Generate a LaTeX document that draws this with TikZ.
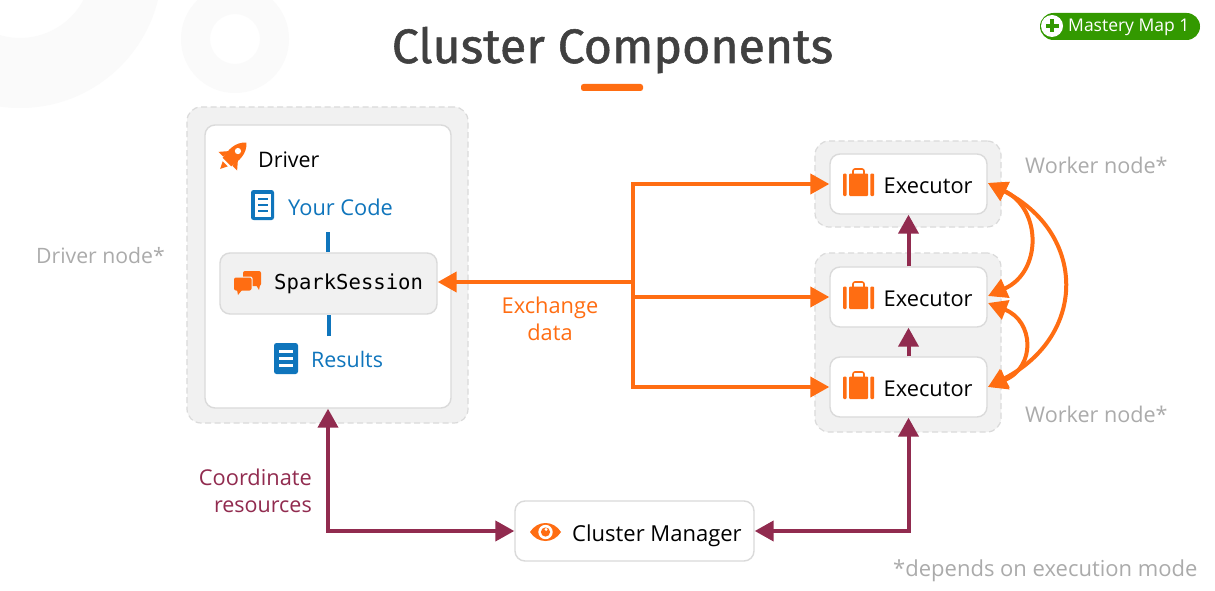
\documentclass[tikz,border=0pt]{standalone}
\usepackage{fontspec}
\setmainfont{Open Sans}
\newfontfamily\titlefont[FakeBold=1.1]{Fira Sans}
\newfontfamily\codefont{DejaVu Sans Mono}
\usetikzlibrary{arrows.meta,calc}
\definecolor{orng}{HTML}{FF6D12}
\definecolor{plum}{HTML}{912B4F}
\definecolor{blu}{HTML}{0F75BC}
\definecolor{lgray}{HTML}{F1F1F1}
\definecolor{edge}{HTML}{DADADA}
\definecolor{gtxt}{HTML}{ABABAB}
\definecolor{ringc}{HTML}{FAFAFA}
\definecolor{pill}{HTML}{339900}
\tikzset{
  group/.style={draw=edge,dashed,dash pattern=on 6pt off 3.5pt,line width=1.2pt,fill=lgray,rounded corners=14pt,inner sep=0pt,minimum width=#1},
  card/.style={draw=edge,line width=1.4pt,fill=white,rounded corners=10pt,inner sep=0pt},
  lab/.style={anchor=base west,inner sep=0pt,font=\fontsize{21.8}{22}\selectfont},
  note/.style={lab,text=gtxt},
  oarrow/.style={draw=orng,line width=4pt,-{Triangle[length=19pt,width=20pt]}},
  oboth/.style={draw=orng,line width=4pt,{Triangle[length=19pt,width=20pt]}-{Triangle[length=19pt,width=20pt]}},
  oplain/.style={draw=orng,line width=4pt},
  parrow/.style={draw=plum,line width=4pt,-{Triangle[length=19pt,width=20pt]}},
  pboth/.style={draw=plum,line width=4pt,{Triangle[length=19pt,width=20pt]}-{Triangle[length=19pt,width=20pt]}},
  bline/.style={draw=blu,line width=4pt},
}
\newcommand\iconbrief[1]{\begin{scope}[shift={#1}]
  \fill[orng,rounded corners=1pt] (0,5.5) rectangle (3.6,28);
  \fill[orng,rounded corners=1pt] (6,5.5) rectangle (25,28);
  \fill[orng,rounded corners=1pt] (27.4,5.5) rectangle (31,28);
  \draw[orng,line width=1.6pt,rounded corners=2pt] (10,6) -- (10,1) -- (21,1) -- (21,6);
\end{scope}}
\begin{document}
\begin{tikzpicture}[x=1pt,y=-1pt]
\useasboundingbox (0,0) rectangle (1215,591);
\fill[white] (0,0) rectangle (1215,591);
% background rings
\begin{scope}
\clip (0,0) rectangle (1215,591);
\fill[ringc,even odd rule] (20,-34) circle (142) (20,-34) circle (72);
\fill[ringc,even odd rule] (235,39) circle (54) (235,39) circle (25);
\end{scope}
% title
\node[anchor=base,inner sep=0pt,text=black!75,font=\titlefont\fontsize{48.3}{48}\selectfont] (title) at (612.5,63) {Cluster Components};
\fill[orng,rounded corners=2.5pt] (581,84) rectangle (643,91);
% badge
\node[fill=pill,rounded corners=13.5pt,minimum width=160pt,minimum height=27pt,inner sep=0pt] (badge) at (1120,26.5) {};
\fill[white] (1052,26) circle (11);
\fill[pill] (1050.2,19.5) rectangle (1053.8,32.5);
\fill[pill] (1045.5,24.2) rectangle (1058.5,27.8);
\node[lab,text=white,font=\fontsize{17.5}{17.5}\selectfont] (badgetxt) at (1068,32) {Mastery Map 1};
% groups
\node[group=281pt,minimum height=316pt] (drvgroup) at (327.5,265) {};
\node[group=186pt,minimum height=86pt] (wk1) at (908,184) {};
\node[group=186pt,minimum height=179pt] (wk2) at (908,342.5) {};
% cards
\node[card,minimum width=246pt,minimum height=283pt] (drv) at (328,266.5) {};
\node[card,fill=lgray,minimum width=217pt,minimum height=61pt] (spark) at (328.5,283.5) {};
\node[card,minimum width=157pt,minimum height=60pt] (ex1) at (908.5,184) {};
\node[card,minimum width=157pt,minimum height=60pt] (ex2) at (908.5,297) {};
\node[card,minimum width=157pt,minimum height=60pt] (ex3) at (908.5,387) {};
\node[card,minimum width=239pt,minimum height=60pt] (cm) at (634.5,531) {};
% labels
\node[lab,font=\fontsize{21.4}{22}\selectfont] (drvtxt) at (258,167) {Driver};
\node[lab,text=blu] (codetxt) at (288,215) {Your Code};
\node[lab,text=blu,font=\fontsize{21.4}{22}\selectfont] (restxt) at (311,367) {Results};
\node[lab,font=\codefont\fontsize{20.6}{20.6}\selectfont] (sparktxt) at (274,289) {SparkSession};
\node[lab] (ex1txt) at (883.5,193) {Executor};
\node[lab] (ex2txt) at (883.5,306) {Executor};
\node[lab] (ex3txt) at (883.5,396) {Executor};
\node[lab,font=\fontsize{22}{22}\selectfont] (cmtxt) at (572,541) {Cluster Manager};
\node[note,font=\fontsize{21.2}{22}\selectfont] (n1) at (36,263) {Driver node*};
\node[note,font=\fontsize{21.6}{22}\selectfont] (n2) at (1025,173) {Worker node*};
\node[note,font=\fontsize{21.6}{22}\selectfont] (n3) at (1025,422) {Worker node*};
\node[note,font=\fontsize{22}{22}\selectfont] (n4) at (893,576) {*depends on execution mode};
\node[lab,anchor=base,text=orng] (ex1l) at (550,313) {Exchange};
\node[lab,anchor=base,text=orng] (ex2l) at (550,340) {data};
\node[lab,anchor=base east,text=plum,font=\fontsize{21.8}{22}\selectfont] (co1) at (312,485) {Coordinate};
\node[lab,anchor=base east,text=plum,font=\fontsize{21.5}{22}\selectfont] (co2) at (312,512) {resources};
% blue connectors
\coordinate (codeb) at (328,232);
\coordinate (resb) at (329,336);
\draw[bline] (codeb) -- (codeb|-spark.north);
\draw[bline] (resb) -- (resb|-spark.south);
% orange connectors
\coordinate (jn) at (632.5,282);
\draw[oarrow] (jn) -- (jn-|spark.east);
\draw[oplain,line cap=butt] ($(jn|-ex1.west)+(0,-2)$) -- ($(jn|-ex3.west)+(0,2)$);
\draw[oarrow] (jn|-ex1.west) -- (ex1.west);
\draw[oarrow] (jn|-ex2.west) -- (ex2.west);
\draw[oarrow] (jn|-ex3.west) -- (ex3.west);
% curved exchange
\coordinate (a1) at (988,183);
\coordinate (a2) at (988,296);
\coordinate (a3) at (988,303);
\coordinate (a4) at (988,387);
\draw[oboth] (a1) .. controls +(54,26) and +(54,-24) .. (a2);
\draw[oboth] (a1) .. controls +(98,50) and +(100,-52) .. (a4);
\draw[oboth] (a3) .. controls +(46,18) and +(48,-20) .. (a4);
% plum connectors
\draw[parrow] (ex2.north) -- (ex1.south);
\draw[parrow] (ex3.north) -- (ex2.south);
\coordinate (bendl) at (328,531);
\coordinate (bendr) at (908.5,531);
\draw[pboth] (drv.south) -- (bendl) -- (cm.west);
\draw[pboth] (cm.east) -- (bendr) -- (ex3.south);
% icons
\begin{scope}[shift={(232,157)},rotate=-45,scale=1.2]
  \fill[orng] (0,-17) .. controls (7,-11) and (6.5,-2) .. (5,6) -- (-5,6) .. controls (-6.5,-2) and (-7,-11) .. (0,-17) -- cycle;
  \fill[orng] (-5,-2) -- (-11,5) -- (-5.5,5) -- cycle;
  \fill[orng] (5,-2) -- (11,5) -- (5.5,5) -- cycle;
  \fill[orng] (-3,8) -- (0,14) -- (3,8) -- cycle;
  \fill[white] (0,-7) circle (2.6);
\end{scope}
\begin{scope}[shift={(251,190)}]
  \fill[blu,rounded corners=2.5pt] (0,0) rectangle (23,30);
  \fill[white] (3.5,3.5) rectangle (19.5,26.5);
  \fill[blu] (7,7.5) rectangle (16.5,10);
  \fill[blu] (7,13.5) rectangle (16.5,16);
  \fill[blu] (7,19.5) rectangle (16.5,22);
\end{scope}
\begin{scope}[shift={(274,343)}]
  \fill[blu,rounded corners=2.5pt] (0,0) rectangle (24,31);
  \fill[white] (5,7) rectangle (19,9.8);
  \fill[white] (5,14) rectangle (19,16.8);
  \fill[white] (5,21) rectangle (19,23.8);
\end{scope}
\begin{scope}[shift={(234,271)}]
  \fill[orng,rounded corners=2pt] (9,0) rectangle (27,15);
  \fill[orng] (22,14) -- (25,19) -- (26,14) -- cycle;
  \fill[lgray,rounded corners=2pt] (-1,5.5) rectangle (18.5,20.5);
  \fill[orng,rounded corners=2pt] (0,6.5) rectangle (17.5,19.5);
  \fill[orng] (3,19) -- (4,24) -- (8,19) -- cycle;
\end{scope}
\iconbrief{(843,168)}
\iconbrief{(843,281)}
\iconbrief{(843,371)}
\begin{scope}[shift={(545.5,532)}]
  \fill[orng] (-15.5,0) .. controls (-8,-12) and (8,-12) .. (15.5,0) .. controls (8,12) and (-8,12) .. (-15.5,0) -- cycle;
  \fill[white] (0,0) circle (7.2);
  \fill[orng] (0,0) circle (4.6);
  \fill[white] (0.5,-2.6) circle (1.6);
\end{scope}
\end{tikzpicture}
\end{document}
